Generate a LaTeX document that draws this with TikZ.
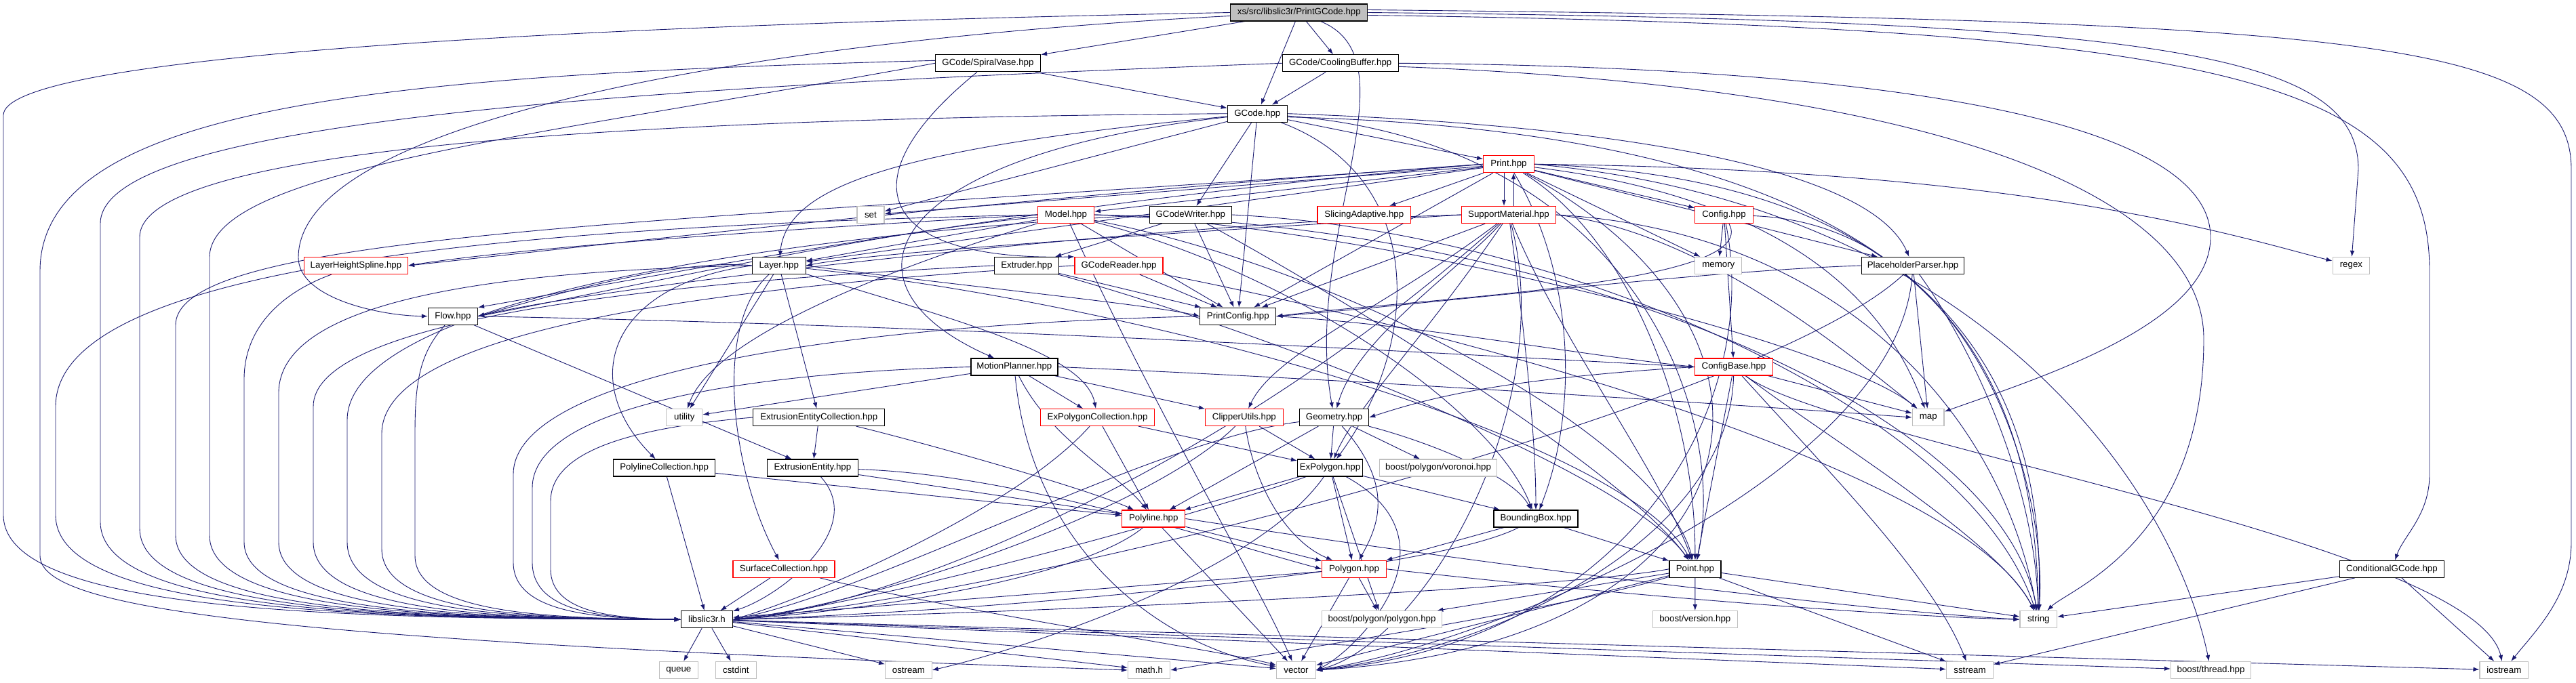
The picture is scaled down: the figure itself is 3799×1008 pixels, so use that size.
\documentclass[tikz,border=0pt]{standalone}
\usepackage{fontspec}
\setmainfont{Liberation Sans}
\usetikzlibrary{arrows.meta}
\pgfdeclarelayer{bg}
\pgfsetlayers{bg,main}
\definecolor{eb}{RGB}{25,25,112}
\definecolor{grayb}{RGB}{191,191,191}
\newcommand{\nfont}{\fontsize{13.3pt}{15pt}\selectfont}
\begin{document}
\begin{tikzpicture}[x=1pt,y=-1pt,
  nd/.style={draw=black,fill=white,line width=1.2pt,minimum height=25pt,inner sep=0pt,font=\nfont},
  rd/.style={nd,draw=red},
  gr/.style={nd,draw=grayb},
  rt/.style={nd,fill=grayb},
  e/.style={draw=eb,line width=0.9pt,-{Latex[length=9pt,width=6.5pt]}}]
\useasboundingbox (0,0) rectangle (3799,1008);
% nodes
\node[rt,minimum width=202pt] (pg) at (1915.8,18.5) {xs/src/libslic3r/PrintGCode.hpp};
\node[nd,minimum width=155pt] (sv) at (1457,93.3) {GCode/SpiralVase.hpp};
\node[nd,minimum width=171pt] (cb) at (1976.7,93.3) {GCode/CoolingBuffer.hpp};
\node[nd,minimum width=88pt] (gc) at (1854.3,167.7) {GCode.hpp};
\node[gr,minimum width=40pt] (set) at (1283.9,317) {set};
\node[rd,minimum width=83pt] (model) at (1571.9,317) {Model.hpp};
\node[nd,minimum width=121pt] (gcw) at (1755.8,317) {GCodeWriter.hpp};
\node[rd,minimum width=74.5pt] (print) at (2225,242.3) {Print.hpp};
\node[rd,minimum width=137.6pt] (slad) at (2011.8,317) {SlicingAdaptive.hpp};
\node[rd,minimum width=138.7pt] (sup) at (2225,317) {SupportMaterial.hpp};
\node[rd,minimum width=85.5pt] (config) at (2542.5,317) {Config.hpp};
\node[rd,minimum width=153pt] (lhs) at (525,392) {LayerHeightSpline.hpp};
\node[nd,minimum width=73pt] (flow) at (668,466.7) {Flow.hpp};
\node[nd,minimum width=79pt] (layer) at (1148.7,392) {Layer.hpp};
\node[nd,minimum width=95pt] (extr) at (1514,392) {Extruder.hpp};
\node[rd,minimum width=130pt] (gcr) at (1650,392) {GCodeReader.hpp};
\node[nd,minimum width=112pt] (pcfg) at (1825.8,466.7) {PrintConfig.hpp};
\node[nd,minimum width=128pt] (mp) at (1495.9,541.5) {MotionPlanner.hpp};
\node[gr,minimum width=53pt] (util) at (1009.3,616) {utility};
\node[nd,minimum width=194pt] (eec) at (1207.8,616) {ExtrusionEntityCollection.hpp};
\node[rd,minimum width=168pt] (epc) at (1618.6,616) {ExPolygonCollection.hpp};
\node[rd,minimum width=114.5pt] (clip) at (1834.9,616) {ClipperUtils.hpp};
\node[gr,minimum width=69pt] (memory) at (2534.3,392) {memory};
\node[nd,minimum width=151.5pt] (pp) at (2821,392) {PlaceholderParser.hpp};
\node[gr,minimum width=54.6pt] (regex) at (3467.4,392) {regex};
\node[rd,minimum width=114.5pt] (cfgb) at (2557,541.5) {ConfigBase.hpp};
\node[nd,minimum width=102pt] (geo) at (1967.6,616) {Geometry.hpp};
\node[gr,minimum width=46.7pt] (map) at (2843.7,616) {map};
\node[nd,minimum width=150pt] (plc) at (979.7,690.5) {PolylineCollection.hpp};
\node[nd,minimum width=134.5pt] (ee) at (1198.4,690.5) {ExtrusionEntity.hpp};
\node[rd,minimum width=93pt] (pl) at (1701.3,765.5) {Polyline.hpp};
\node[rd,minimum width=150pt] (sc) at (1156,839.8) {SurfaceCollection.hpp};
\node[nd,minimum width=76pt] (lib) at (1042.4,914.2) {libslic3r.h};
\node[gr,minimum width=57pt] (queue) at (1000.9,989) {queue};
\node[gr,minimum width=60pt] (cstdint) at (1085.4,989) {cstdint};
\node[gr,minimum width=68.5pt] (ostream) at (1339.9,989) {ostream};
\node[gr,minimum width=62pt] (math) at (1694.6,989) {math.h};
\node[gr,minimum width=58pt] (vector) at (1911.5,989) {vector};
\node[nd,minimum width=96pt] (ep) at (1961.5,690.5) {ExPolygon.hpp};
\node[gr,minimum width=173pt] (vor) at (2121,690.5) {boost/polygon/voronoi.hpp};
\node[nd,minimum width=124pt] (bb) at (2265,765.5) {BoundingBox.hpp};
\node[rd,minimum width=94.5pt] (poly) at (1997,839.8) {Polygon.hpp};
\node[nd,minimum width=76pt] (point) at (2499.9,839.8) {Point.hpp};
\node[gr,minimum width=177pt] (bpp) at (2038,914.2) {boost/polygon/polygon.hpp};
\node[gr,minimum width=125pt] (bver) at (2499.8,914.2) {boost/version.hpp};
\node[nd,minimum width=154pt] (cond) at (3527.4,839.8) {ConditionalGCode.hpp};
\node[gr,minimum width=54.6pt] (string) at (3006.3,914.2) {string};
\node[gr,minimum width=69pt] (sstream) at (2905,989) {sstream};
\node[gr,minimum width=118pt] (bth) at (3260.5,989) {boost/thread.hpp};
\node[gr,minimum width=71.5pt] (iostream) at (3692.8,989) {iostream};
\begin{pgfonlayer}{bg}
\fill[white] (0,0) rectangle (3799,1008);
% root
\draw[e] (pg) -- (sv);
\draw[e] (pg) -- (cb);
\draw[e] (pg) -- (gc);
\draw[e] (pg.west) .. controls (700,40) and (5,90) .. (5,170) -- (5,760) .. controls (5,905) and (505,913) .. (lib.west);
\draw[e] ([yshift=-5pt]pg.west) .. controls (1100,60) and (440,180) .. (440,380) .. controls (440,440) and (560,466) .. (flow.west);
\draw[e] (pg) .. controls (2090,90) and (1920,350) .. (geo);
\draw[e] (pg.east) .. controls (3200,30) and (3478,80) .. (3478,250) -- (regex);
\draw[e] ([yshift=-4pt]pg.east) .. controls (3300,40) and (3583,120) .. (3583,400) -- (3583,700) .. controls (3583,760) and (3545,790) .. (cond);
\draw[e] ([yshift=4pt]pg.east) .. controls (3500,30) and (3792,60) .. (3792,250) -- (3792,800) .. controls (3792,880) and (3740,930) .. (iostream);
% spiral vase
\draw[e] (sv) -- (gc);
\draw[e] (sv) .. controls (1240,270) and (1300,385) .. (gcr.north west);
\draw[e] (sv.west) .. controls (800,200) and (309,250) .. (309,380) -- (309,790) .. controls (309,905) and (656,913) .. (lib.west);
\draw[e] ([yshift=4pt]sv.west) .. controls (600,110) and (59,150) .. (59,400) -- (59,820) .. controls (59,900) and (400,945) .. (math.west);
% cooling buffer
\draw[e] (cb) -- (gc);
\draw[e] (cb.west) .. controls (900,130) and (148,180) .. (148,330) -- (148,770) .. controls (148,905) and (576,913) .. (lib.west);
\draw[e] (cb.east) .. controls (2900,100) and (3260,200) .. (3260,350) .. controls (3260,480) and (3000,560) .. (map);
\draw[e] ([yshift=-5pt]cb.east) .. controls (2900,130) and (3250,300) .. (3250,500) .. controls (3250,800) and (3050,870) .. (string);
% GCode
\draw[e] (gc) -- (set);
\draw[e] (gc) -- (gcw);
\draw[e] (gc) -- (print);
\draw[e] (gc) .. controls (1300,220) and (1160,280) .. (layer);
\draw[e] (gc) .. controls (1300,230) and (1220,420) .. (mp);
\draw[e] (gc) -- (pcfg);
\draw[e] (gc.east) .. controls (2400,185) and (2760,250) .. (pp);
\draw[e] ([yshift=-5pt]gc.east) .. controls (2800,195) and (3020,500) .. (string);
\draw[e] (gc) .. controls (2100,260) and (2100,500) .. (ep);
\draw[e] (gc) .. controls (2400,210) and (2550,600) .. (point);
\draw[e] (gc.west) .. controls (900,175) and (206,220) .. (206,350) -- (206,780) .. controls (206,905) and (605,913) .. (lib.west);
% GCodeWriter
\draw[e] (gcw) -- (extr);
\draw[e] (gcw) -- (pcfg);
\draw[e] (gcw.west) .. controls (1100,350) and (512,450) .. (512,620) -- (512,800) .. controls (512,905) and (758,913) .. (lib.west);
\draw[e] (gcw.east) .. controls (2300,340) and (2900,600) .. (string);
\draw[e] (gcw) .. controls (2000,450) and (2400,700) .. (point);
% Print
\draw[e] (print) -- (set);
\draw[e] (print) -- (model);
\draw[e] (print) -- (slad);
\draw[e] ([xshift=-7pt]print.south) -- ([xshift=-7pt]sup.north);
\draw[e] ([xshift=7pt]sup.north) -- ([xshift=7pt]print.south);
\draw[e] (print) -- (config);
\draw[e] (print.west) .. controls (1500,290) and (900,360) .. (lhs.east);
\draw[e] (print.west) .. controls (1500,300) and (900,420) .. (flow.north east);
\draw[e] (print) -- (layer);
\draw[e] (print) -- (pcfg);
\draw[e] (print) -- (pp);
\draw[e] (print) -- (memory);
\draw[e] (print) .. controls (2320,400) and (2330,600) .. (bb);
\draw[e] (print) .. controls (2400,350) and (2500,600) .. (point);
\draw[e] (print.east) .. controls (2800,260) and (3000,500) .. (string);
\draw[e] (print.east) .. controls (2900,300) and (3200,700) .. (bth);
\draw[e] (print) .. controls (2700,500) and (2600,950) .. (vector.east);
\draw[e] (print) .. controls (2700,300) and (2800,500) .. (map);
\draw[e] (print.east) .. controls (3000,250) and (3300,350) .. (regex);
\draw[e] (print.west) .. controls (1000,330) and (259,340) .. (259,480) -- (259,790) .. controls (259,905) and (631,913) .. (lib.west);
% SupportMaterial
\draw[e] (sup) -- (pcfg);
\draw[e] (sup.west) .. controls (1700,330) and (900,420) .. (flow.east);
\draw[e] (sup.west) .. controls (1800,340) and (1300,370) .. (layer.east);
\draw[e] (sup) .. controls (2150,400) and (2000,500) .. (geo);
\draw[e] (sup) .. controls (2300,500) and (2450,700) .. (point);
\draw[e] (sup) .. controls (2050,450) and (1880,520) .. (clip);
\draw[e] (sup) .. controls (2100,500) and (2000,600) .. (ep);
\draw[e] (sup.east) .. controls (2500,340) and (2700,500) .. (map);
\draw[e] (sup.east) .. controls (2700,340) and (2950,600) .. (string);
\draw[e] (sup) .. controls (2300,600) and (2100,950) .. (vector.east);
\draw[e] (sup) .. controls (1800,700) and (1300,900) .. (lib.east);
\draw[e] (sup) .. controls (2250,500) and (2265,650) .. (bb);
% Config
\draw[e] (config) -- (memory);
\draw[e] (config) -- (cfgb);
\draw[e] (config) .. controls (2600,420) and (2100,440) .. (pcfg.east);
\draw[e] (config) .. controls (2900,330) and (3020,700) .. (string);
\draw[e] (config) .. controls (2600,600) and (2400,950) .. (vector.east);
% Model
\draw[e] (model.west) .. controls (1300,330) and (800,360) .. (lhs.east);
\draw[e] (model) -- (pcfg);
\draw[e] (model) -- (layer);
\draw[e] (model) .. controls (1300,340) and (900,430) .. (flow.east);
\draw[e] (model) .. controls (1900,400) and (2200,600) .. (bb);
\draw[e] (model) .. controls (2000,400) and (2450,650) .. (point);
\draw[e] (model.east) .. controls (2000,330) and (2700,500) .. (map);
\draw[e] (model.east) .. controls (2300,330) and (2950,600) .. (string);
\draw[e] (model) .. controls (1300,400) and (1050,500) .. (util);
\draw[e] (model) .. controls (1700,600) and (1850,850) .. (vector);
\draw[e] (model.west) .. controls (700,335) and (82,400) .. (82,600) -- (82,760) .. controls (82,905) and (543,913) .. (lib.west);
% Layer
\draw[e] (layer.west) .. controls (1000,380) and (800,440) .. (flow.east);
\draw[e] (layer) .. controls (1050,480) and (1080,700) .. (sc);
\draw[e] (layer) -- (eec);
\draw[e] (layer) .. controls (1400,470) and (1600,520) .. (epc);
\draw[e] (layer.west) .. controls (900,420) and (850,560) .. (plc);
\draw[e] (layer) -- (util);
\draw[e] (layer) .. controls (1700,450) and (2400,650) .. (point);
\draw[e] (layer.east) .. controls (1400,420) and (1700,450) .. (pcfg.west);
\draw[e] (layer.west) .. controls (700,400) and (411,450) .. (411,580) -- (411,800) .. controls (411,905) and (707,913) .. (lib.west);
% Flow
\draw[e] (flow) -- (ee);
\draw[e] (flow.east) .. controls (1400,480) and (2100,520) .. (cfgb.west);
\draw[e] (flow) .. controls (620,520) and (612,560) .. (612,640) -- (612,820) .. controls (612,905) and (808,913) .. (lib.west);
% LHS
\draw[e] (lhs) .. controls (420,430) and (360,480) .. (360,560) -- (360,800) .. controls (360,905) and (682,913) .. (lib.west);
% Extruder
\draw[e] (extr) -- (pcfg);
\draw[e] (extr) .. controls (1900,500) and (2400,700) .. (point);
\draw[e] (extr.west) .. controls (900,420) and (462,480) .. (462,600) -- (462,800) .. controls (462,905) and (733,913) .. (lib.west);
% GCodeReader
\draw[e] (gcr) -- (pcfg);
\draw[e] (gcr) .. controls (2200,500) and (2900,700) .. (string);
\draw[e] (gcr.west) .. controls (1100,420) and (563,480) .. (563,640) -- (563,810) .. controls (563,905) and (783,913) .. (lib.west);
% PrintConfig
\draw[e] (pcfg.east) .. controls (2100,480) and (2300,520) .. (cfgb.west);
\draw[e] (pcfg.west) .. controls (1200,480) and (757,560) .. (757,700) -- (757,830) .. controls (757,905) and (880,913) .. (lib.west);
% PlaceholderParser
\draw[e] (pp.west) .. controls (2500,400) and (2100,450) .. (pcfg.east);
\draw[e] (pp) -- (map);
\draw[e] (pp) .. controls (2900,500) and (3000,700) .. (string);
\draw[e] (pp) .. controls (2800,700) and (2200,950) .. (vector.east);
\draw[e] (pp) .. controls (2600,600) and (1500,880) .. (lib.east);
% ConfigBase
\draw[e] (cfgb) -- (map);
\draw[e] (cfgb) .. controls (2700,650) and (3650,800) .. (iostream);
\draw[e] (cfgb) .. controls (2700,650) and (2950,800) .. (string);
\draw[e] (cfgb) .. controls (2550,800) and (2200,960) .. (vector.east);
\draw[e] (cfgb) -- (point);
\draw[e] (cfgb) .. controls (2700,700) and (2850,850) .. (sstream);
\draw[e] (cfgb.west) .. controls (2200,560) and (2100,590) .. (geo.east);
% MotionPlanner
\draw[e] (mp) -- (clip);
\draw[e] (mp) -- (epc);
\draw[e] (mp) .. controls (1550,650) and (1650,700) .. (pl);
\draw[e] (mp) -- (util);
\draw[e] (mp.east) .. controls (2000,560) and (2600,600) .. (map.west);
\draw[e] (mp) .. controls (1520,800) and (1700,950) .. (vector);
\draw[e] (mp.west) .. controls (1100,550) and (785,600) .. (785,720) -- (785,830) .. controls (785,905) and (894,913) .. (lib.west);
% EEC
\draw[e] (eec) -- (ee);
\draw[e] (eec) .. controls (1350,650) and (1600,720) .. (pl);
\draw[e] (eec.west) .. controls (950,630) and (812,660) .. (812,740) -- (812,840) .. controls (812,905) and (908,913) .. (lib.west);
% EPC
\draw[e] (epc) -- (ep);
\draw[e] (epc) -- (pl);
\draw[e] (epc) .. controls (1500,750) and (1200,880) .. (lib.east);
% Clip
\draw[e] (clip) -- (ep);
\draw[e] (clip) .. controls (1850,720) and (1900,800) .. (poly);
\draw[e] (clip) .. controls (1700,750) and (1300,890) .. (lib.east);
% Geometry
\draw[e] (geo) -- (ep);
\draw[e] (geo) -- (vor);
\draw[e] (geo) .. controls (2100,650) and (2230,700) .. (bb);
\draw[e] (geo) .. controls (2060,720) and (2030,780) .. (poly);
\draw[e] (geo) -- (pl);
\draw[e] (geo) .. controls (1700,650) and (1300,870) .. (lib.east);
% PLC
\draw[e] (plc) -- (pl);
\draw[e] (plc) -- (lib);
% EE
\draw[e] (ee) -- (pl);
\draw[e] (ee) .. controls (1500,700) and (1800,800) .. (poly.west);
\draw[e] (ee) .. controls (1280,780) and (1150,880) .. (lib);
% SC
\draw[e] (sc) -- (lib);
\draw[e] (sc) .. controls (1400,900) and (1800,960) .. (vector);
% Polyline
\draw[e] (pl) -- (poly);
\draw[e] (pl) .. controls (1600,850) and (1300,900) .. (lib.east);
\draw[e] (pl) -- (vector);
\draw[e] (pl.east) .. controls (2300,850) and (2800,905) .. (string.west);
% ExPolygon
\draw[e] (ep) -- (poly);
\draw[e] (ep) -- (pl);
\draw[e] (ep) -- (bb);
\draw[e] (ep) .. controls (1850,850) and (1500,960) .. (ostream.east);
\draw[e] (ep) .. controls (2160,800) and (2000,960) .. (vector.east);
\draw[e] (ep) -- (bpp);
\draw[e] (ep) .. controls (1800,750) and (1300,890) .. (lib.east);
% BoundingBox
\draw[e] (bb) -- (point);
\draw[e] (bb) -- (poly);
\draw[e] (bb) .. controls (2100,850) and (1400,905) .. (lib.east);
% Polygon
\draw[e] (poly) -- (lib);
\draw[e] (poly) -- (vector);
\draw[e] (poly.east) .. controls (2400,880) and (2800,910) .. (string.west);
\draw[e] (poly) -- (bpp);
% Point
\draw[e] (point.west) .. controls (2300,870) and (1500,905) .. (lib.east);
\draw[e] (point) -- (vector);
\draw[e] (point) .. controls (2300,900) and (1900,960) .. (math.east);
\draw[e] (point) -- (string);
\draw[e] (point) -- (sstream);
\draw[e] (point) -- (bver);
\draw[e] (point) -- (bpp);
% Conditional
\draw[e] (cond) -- (string);
\draw[e] (cond) -- (sstream);
\draw[e] (cond) -- (iostream);
% libslic3r
\draw[e] (lib) -- (queue);
\draw[e] (lib) -- (cstdint);
\draw[e] (lib) -- (ostream);
\draw[e] (lib) -- (math);
\draw[e] (lib) -- (vector);
\draw[e] (lib) -- (sstream);
\draw[e] (lib) -- (iostream);
\draw[e] (lib) -- (bth);
\end{pgfonlayer}
\end{tikzpicture}
\end{document}
